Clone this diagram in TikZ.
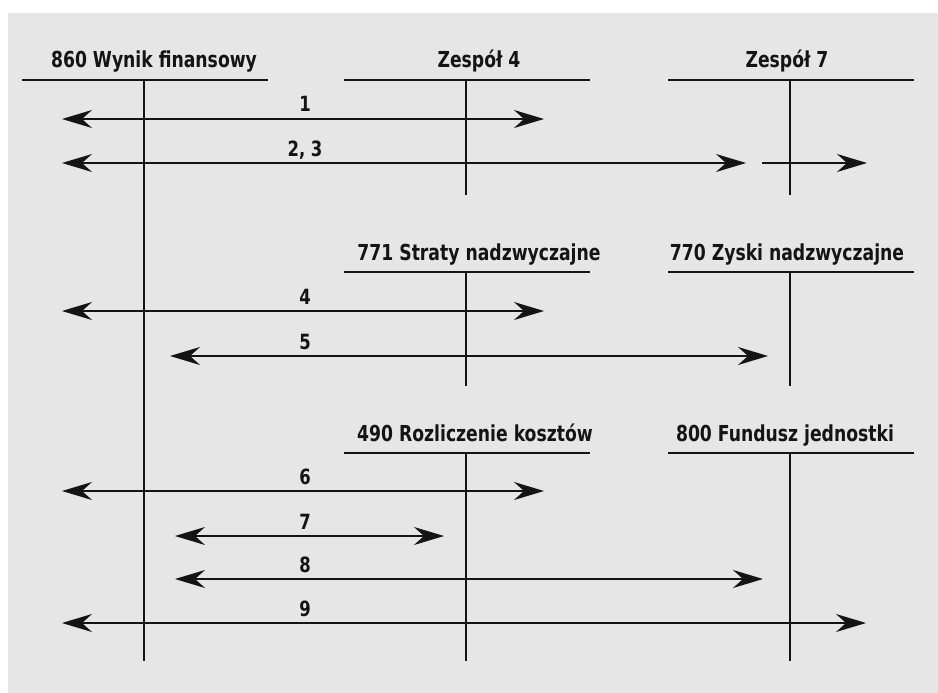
\documentclass[tikz,border=0pt]{standalone}
\usepackage{fontspec}
\setmainfont[FakeStretch=0.87]{DejaVu Sans Condensed}
\usetikzlibrary{arrows.meta}
\definecolor{panel}{HTML}{E6E6E6}
\definecolor{ink}{HTML}{141414}
\tikzset{
  title/.style={font=\fontsize{22}{24}\selectfont\bfseries, text=ink, inner sep=0pt, anchor=base},
  num/.style={font=\fontsize{21}{23}\selectfont\bfseries, text=ink, inner sep=0pt, anchor=base},
  tline/.style={draw=ink, line width=2pt},
  flow/.style={draw=ink, line width=2pt, -{Stealth[length=30pt,width=18pt,inset=10pt]}},
  flowboth/.style={draw=ink, line width=2pt, {Stealth[length=30pt,width=18pt,inset=10pt]}-{Stealth[length=30pt,width=18pt,inset=10pt]}}
}
\begin{document}
\begin{tikzpicture}[x=1pt,y=-1pt]
\useasboundingbox (0,0) rectangle (938,693);
\fill[panel] (8,13) rectangle (938,693);

% T-accounts: name, stem x, bar y, stem bottom y, title x, title
\newcommand{\taccount}[6]{%
  \node[title] (#1) at (#5,#3-12) {#6};
  \coordinate (#1-l) at (#2-122,#3);
  \coordinate (#1-r) at (#2+124,#3);
  \coordinate (#1-t) at (#2,#3);
  \coordinate (#1-b) at (#2,#4);
  \draw[tline] (#1-l) -- (#1-r);
  \draw[tline] (#1-t) -- (#1-b);
}
\taccount{wf}{144}{80}{661}{154}{860 Wynik finansowy}
\taccount{zc}{466}{80}{195}{479}{Zespół 4}
\taccount{zs}{790}{80}{195}{787}{Zespół 7}
\taccount{sn}{466}{272}{386}{479}{771 Straty nadzwyczajne}
\taccount{zn}{790}{272}{386}{787}{770 Zyski nadzwyczajne}
\taccount{rk}{466}{453}{661}{475}{490 Rozliczenie kosztów}
\taccount{fj}{790}{453}{661}{785}{800 Fundusz jednostki}

% flow arrows: name, y, left end, right end, label
\newcommand{\flowline}[5]{%
  \coordinate (#1-a) at (#3,#2);
  \coordinate (#1-z) at (#4,#2);
  \draw[flowboth] (#1-z) -- (#1-a);
  \node[num] (#1-n) at (305,#2-7) {#5};
}
\flowline{f1}{119}{62}{544}{1}
\flowline{f23}{163}{62}{746}{2, 3}
\coordinate (f23b-a) at (762,163);
\coordinate (f23b-z) at (867,163);
\draw[flow] (f23b-a) -- (f23b-z);
\flowline{f4}{311}{62}{544}{4}
\flowline{f5}{356}{170}{768}{5}
\flowline{f6}{491}{62}{544}{6}
\flowline{f7}{536}{175}{444}{7}
\flowline{f8}{579}{175}{763}{8}
\flowline{f9}{623}{62}{866}{9}
\end{tikzpicture}
\end{document}
